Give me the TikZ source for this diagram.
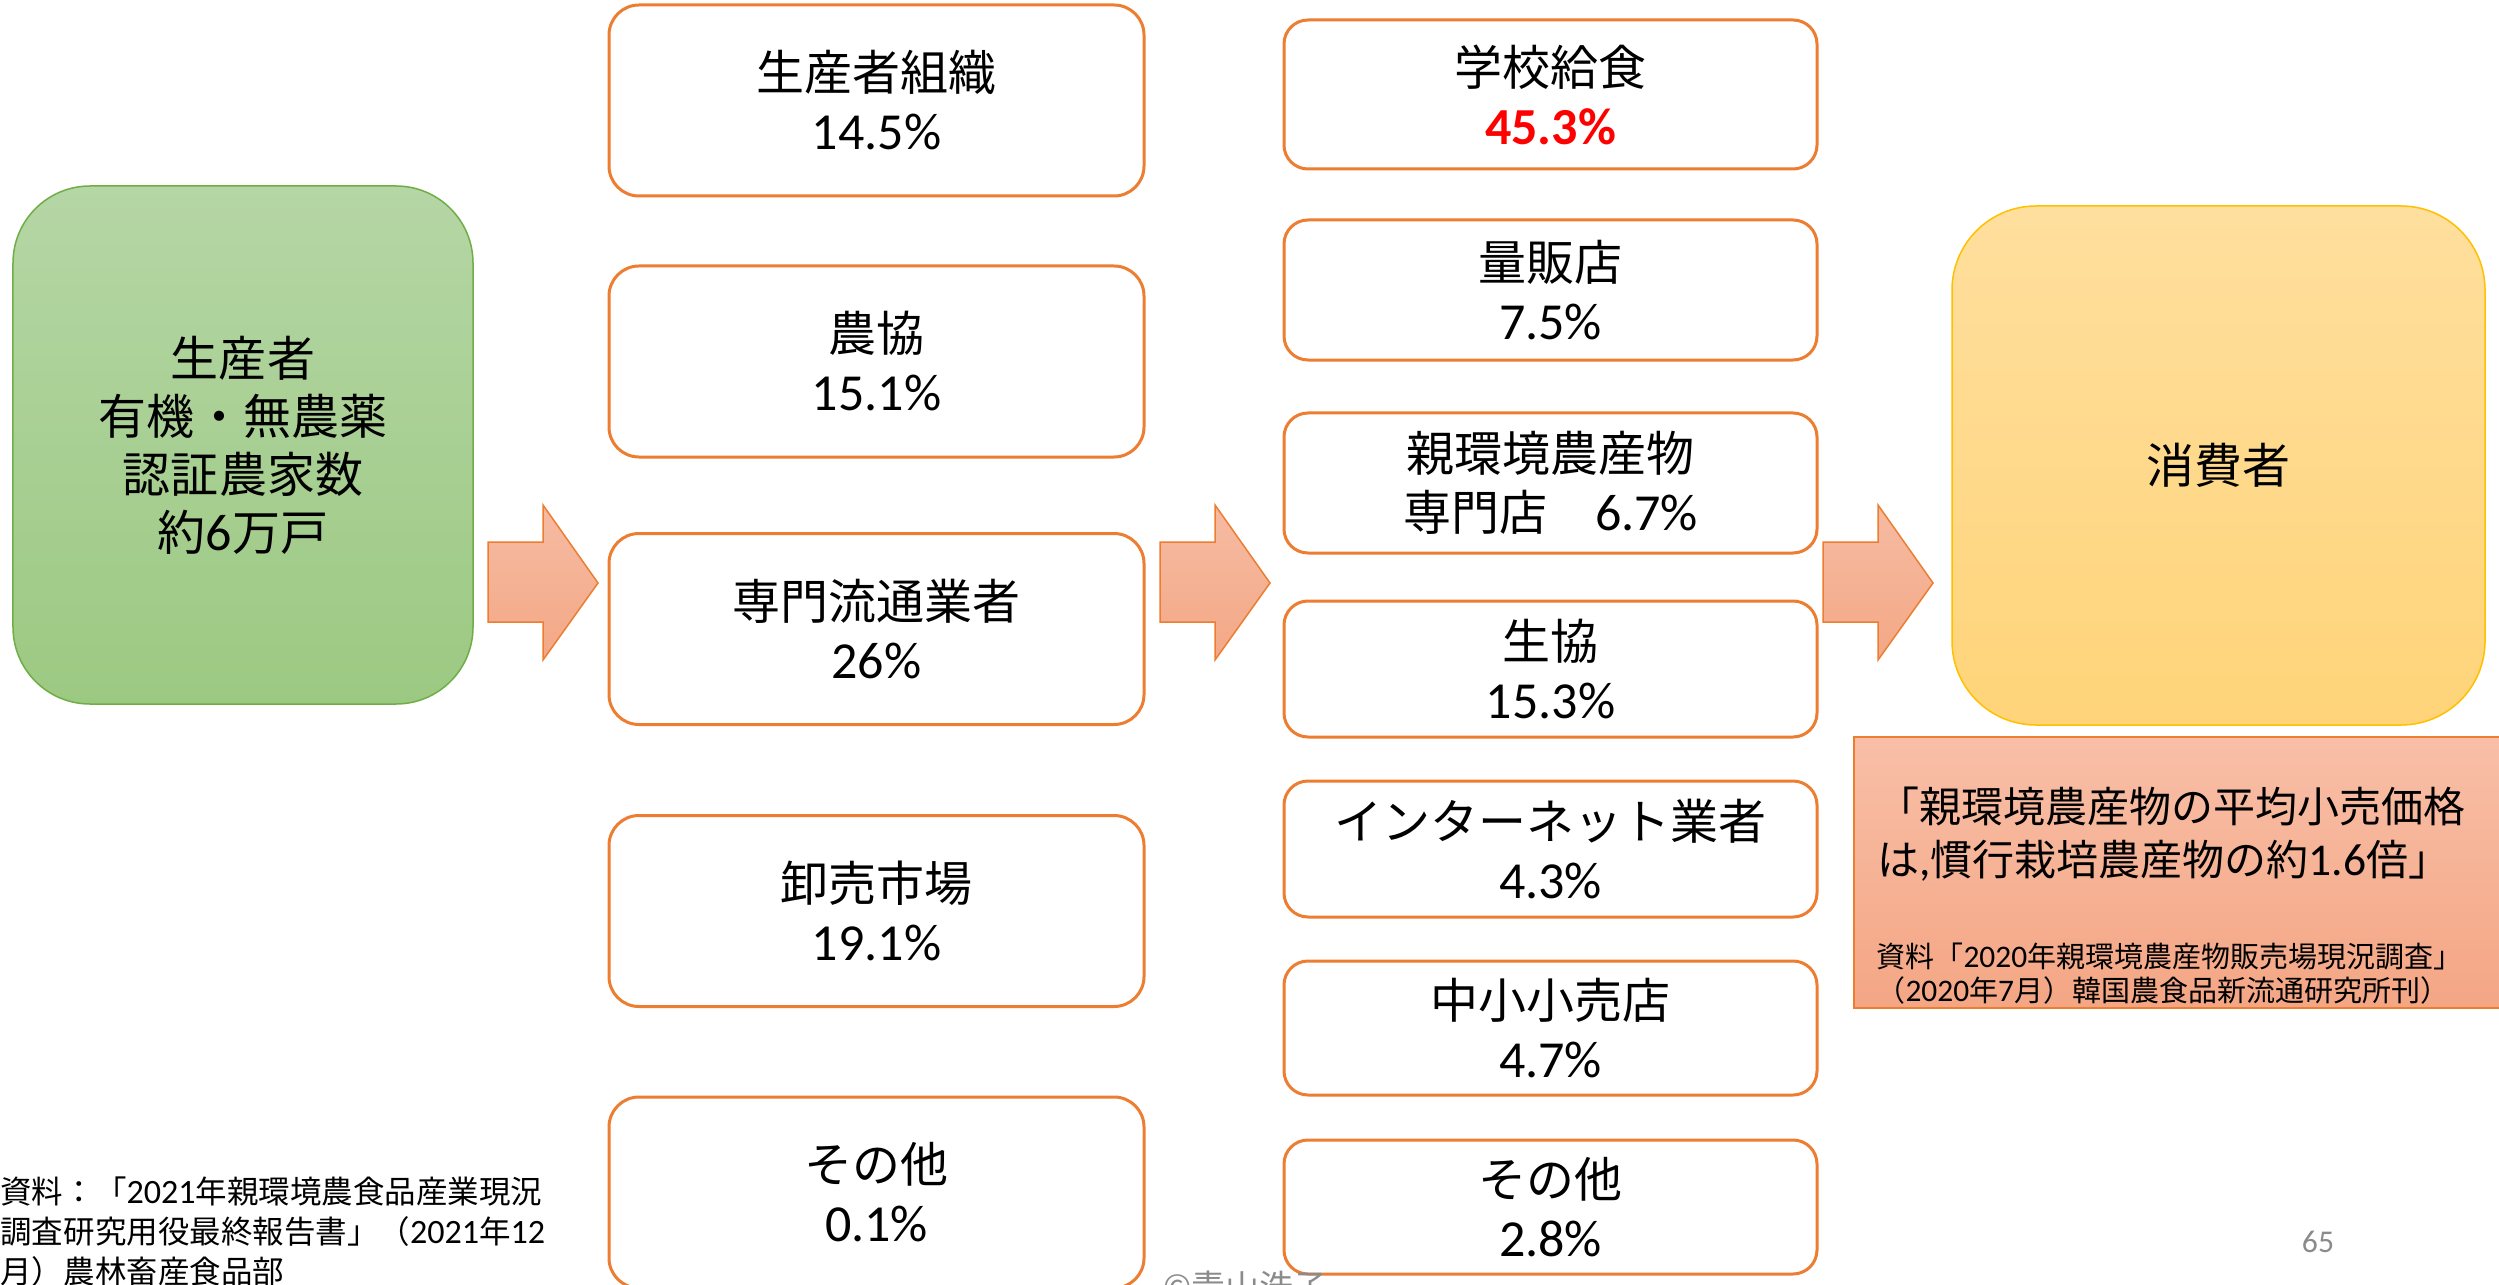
\documentclass[tikz,border=0pt]{standalone}
\usepackage{fontspec}
\setmainfont{Noto Sans CJK JP}
\newfontfamily\lat[Scale=1.083]{Carlito}
\definecolor{orng}{HTML}{ED7D31}
\definecolor{grnTop}{HTML}{B5D6A5}
\definecolor{grnBot}{HTML}{9CC982}
\definecolor{grnLine}{HTML}{70AD47}
\definecolor{ylwTop}{HTML}{FFDF9E}
\definecolor{ylwBot}{HTML}{FFD479}
\definecolor{ylwLine}{HTML}{FFC000}
\definecolor{pnkTop}{HTML}{F8BFA7}
\definecolor{pnkBot}{HTML}{F4A684}
\definecolor{arrTop}{HTML}{F6BBA3}
\definecolor{arrBot}{HTML}{F3A885}
\definecolor{pgGray}{HTML}{8B8B8B}
\definecolor{pctRed}{HTML}{FF0000}
\newcommand\bigtxt{\fontsize{19.2pt}{23.6pt}\selectfont}
\newcommand\drawblockarrow[1]{\path[blockarr] (#1,542) -- (#1+55,542) -- (#1+55,505) -- (#1+110,583) -- (#1+55,660) -- (#1+55,622) -- (#1,622) -- cycle;}
\begin{document}
\begin{tikzpicture}[x=0.4pt,y=-0.4pt,
  chanA/.style={draw=orng, line width=1.2pt, fill=white, rounded corners=12pt, minimum width=214pt, minimum height=76.4pt, inner sep=0pt, align=center, font=\bigtxt},
  chanB/.style={draw=orng, line width=1.2pt, fill=white, rounded corners=9.6pt, minimum width=213.2pt, inner sep=0pt, align=center, font=\bigtxt},
  blockarr/.style={draw=orng, line width=0.6pt, top color=arrTop, bottom color=arrBot},
  bigbox/.style={line width=0.6pt, inner sep=0pt, align=center, font=\bigtxt},
]
\useasboundingbox (0,0) rectangle (2499,1285);
\fill[white] (0,0) rectangle (2499,1285);

% producer
\node[bigbox, draw=grnLine, top color=grnTop, bottom color=grnBot, rounded corners=30.8pt, minimum width=184pt, minimum height=207.2pt, font=\fontsize{19.2pt}{23.2pt}\selectfont] (prod) at (243,445) {生産者\\有機・無農薬\\認証農家数\\約{\lat 6}万戸};

% consumer
\node[bigbox, draw=ylwLine, top color=ylwTop, bottom color=ylwBot, rounded corners=33.6pt, minimum width=213.2pt, minimum height=207.6pt] (cons) at (2218.5,465.5) {消費者};

% block arrows
\drawblockarrow{488}
\drawblockarrow{1160}
\drawblockarrow{1823}

% column 1
\node[chanA] (a1) at (876.5,100.5) {生産者組織\\{\lat 14.5\%}};
\node[chanA] (a2) at (876.5,361.5) {農協\\{\lat 15.1\%}};
\node[chanA] (a3) at (876.5,629) {専門流通業者\\{\lat 26\%}};
\node[chanA] (a4) at (876.5,911) {卸売市場\\{\lat 19.1\%}};
\node[chanA] (a5) at (876.5,1192.5) {その他\\{\lat 0.1\%}};

% column 2
\node[chanB, minimum height=59.6pt] (b1) at (1550.5,94.5) {学校給食\\{\lat\bfseries\color{pctRed}45.3\%}};
\node[chanB, minimum height=56pt] (b2) at (1550.5,290) {量販店\\{\lat 7.5\%}};
\node[chanB, minimum height=56pt] (b3) at (1550.5,483) {親環境農産物\\専門店　{\lat 6.7\%}};
\node[chanB, minimum height=54.4pt] (b4) at (1550.5,669) {生協\\{\lat 15.3\%}};
\node[chanB, minimum height=54.4pt] (b5) at (1550.5,849) {インターネット業者\\{\lat 4.3\%}};
\node[chanB, minimum height=53.6pt] (b6) at (1550.5,1028) {中小小売店\\{\lat 4.7\%}};
\node[chanB, minimum height=53.6pt] (b7) at (1550.5,1207) {その他\\{\lat 2.8\%}};

% price note
\node[draw=orng, line width=0.6pt, top color=pnkTop, bottom color=pnkBot, minimum width=262.4pt, minimum height=108.4pt, inner sep=0pt] (note) at (2182,872.5) {};
\node[anchor=west, align=left, inner sep=0pt, font=\fontsize{16.8pt}{21.2pt}\selectfont] (quote) at (1877,834.5) {「親環境農産物の平均小売価格\\は{\lat ,}慣行栽培農産物の約{\lat 1.6}倍」};
\node[anchor=west, align=left, inner sep=0pt, font=\fontsize{11.6pt}{13.6pt}\selectfont] (src2) at (1876,974) {資料「{\lat 2020}年親環境農産物販売場現況調査」\\（{\lat 2020}年{\lat 7}月）韓国農食品新流通研究所刊）};

% source bottom left
\node[anchor=west, align=left, inner sep=0pt, font=\fontsize{12.6pt}{16pt}\selectfont] (src1) at (0,1232) {資料：「{\lat 2021}年親環境農食品産業現況\\調査研究用役最終報告書」（{\lat 2021}年{\lat 12}\\月）農林畜産食品部};

% page number and credit
\node[inner sep=0pt, text=pgGray, font=\fontsize{11.7pt}{14pt}\selectfont] (page) at (2318,1242) {\lat 65};
\node[anchor=base west, inner sep=0pt, text=pgGray, font=\fontsize{13.6pt}{16pt}\selectfont] (credit) at (1163,1299) {©青山浩子};
\end{tikzpicture}
\end{document}
